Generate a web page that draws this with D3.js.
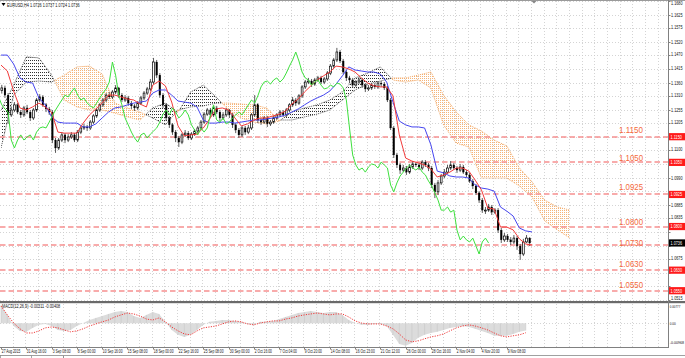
<!DOCTYPE html>
<html><head><meta charset="utf-8">
<script src="https://cdn.jsdelivr.net/npm/d3@7"></script>
<style>
html,body{margin:0;padding:0;background:#fff;overflow:hidden;}
svg{display:block;}
text{font-family:"Liberation Sans",Arial,sans-serif;}
</style></head><body>
<svg id="c" width="685" height="358"></svg>
<script>
// ---------- DATA ----------
const symbolHeader = "EURUSD,H4  1.0726 1.0737 1.0724 1.0736";
const macdHeader = "MACD(12,26,9) -0.00311 -0.00408";

// H4 candles, 2 bars per candle
const opens = [
1.1330,1.1340,1.1312,1.1235,1.1254,1.1274,1.1246,1.1235,1.1262,1.1246,
1.1223,1.1254,1.1293,1.1305,1.1274,1.1258,1.1246,1.1137,1.1106,1.1137,
1.1157,1.1137,1.1149,1.1157,1.1137,1.1168,1.1184,1.1188,1.1184,1.1207,
1.1231,1.1254,1.1274,1.1293,1.1312,1.1305,1.1324,1.1340,1.1312,1.1293,
1.1301,1.1281,1.1270,1.1262,1.1281,1.1301,1.1320,1.1336,1.1363,1.1441,
1.1390,1.1312,1.1274,1.1223,1.1196,1.1168,1.1145,1.1129,1.1157,1.1164,
1.1145,1.1160,1.1172,1.1184,1.1207,1.1238,1.1254,1.1235,1.1262,1.1246,
1.1223,1.1235,1.1254,1.1235,1.1196,1.1176,1.1157,1.1184,1.1168,1.1184,
1.1235,1.1274,1.1215,1.1207,1.1223,1.1200,1.1207,1.1223,1.1235,1.1246,
1.1235,1.1254,1.1274,1.1293,1.1281,1.1309,1.1344,1.1363,1.1367,1.1355,
1.1371,1.1379,1.1363,1.1375,1.1398,1.1425,1.1449,1.1480,1.1445,1.1402,
1.1379,1.1371,1.1351,1.1363,1.1371,1.1351,1.1336,1.1340,1.1351,1.1344,
1.1359,1.1355,1.1340,1.1293,1.1184,1.1079,1.1040,1.1020,1.1028,1.1012,
1.1032,1.1044,1.1040,1.1028,1.1051,1.1040,1.1028,1.0962,1.0935,1.0970,
1.0997,1.1012,1.1028,1.1040,1.1028,1.1020,1.1032,1.1012,1.1001,1.0977,
1.0958,1.0931,1.0903,1.0864,1.0864,1.0876,1.0856,1.0864,1.0786,1.0748,
1.0763,1.0748,1.0740,1.0755,1.0724,1.0693,1.0740,1.0755];
const highs = [
1.1352,1.1349,1.1320,1.1266,1.1285,1.1281,1.1254,1.1270,1.1274,1.1254,
1.1262,1.1301,1.1316,1.1312,1.1281,1.1266,1.1254,1.1145,1.1145,1.1168,
1.1164,1.1160,1.1168,1.1164,1.1176,1.1192,1.1200,1.1196,1.1215,1.1238,
1.1262,1.1281,1.1301,1.1320,1.1324,1.1332,1.1351,1.1344,1.1320,1.1312,
1.1309,1.1289,1.1277,1.1289,1.1309,1.1328,1.1344,1.1375,1.1457,1.1449,
1.1398,1.1320,1.1281,1.1231,1.1203,1.1176,1.1153,1.1164,1.1176,1.1172,
1.1168,1.1180,1.1192,1.1215,1.1246,1.1262,1.1262,1.1270,1.1270,1.1254,
1.1246,1.1262,1.1258,1.1242,1.1203,1.1184,1.1192,1.1192,1.1196,1.1242,
1.1312,1.1281,1.1223,1.1231,1.1231,1.1215,1.1231,1.1242,1.1254,1.1254,
1.1262,1.1281,1.1305,1.1301,1.1316,1.1351,1.1371,1.1379,1.1375,1.1379,
1.1387,1.1387,1.1383,1.1406,1.1433,1.1457,1.1496,1.1488,1.1453,1.1410,
1.1387,1.1379,1.1371,1.1383,1.1379,1.1359,1.1351,1.1359,1.1359,1.1367,
1.1367,1.1363,1.1348,1.1301,1.1192,1.1087,1.1048,1.1040,1.1036,1.1044,
1.1055,1.1051,1.1048,1.1059,1.1059,1.1048,1.1036,1.0970,1.0981,1.1005,
1.1024,1.1040,1.1055,1.1048,1.1036,1.1044,1.1040,1.1020,1.1009,1.0985,
1.0966,1.0938,1.0911,1.0876,1.0888,1.0884,1.0872,1.0872,1.0794,1.0775,
1.0771,1.0759,1.0767,1.0763,1.0732,1.0752,1.0767,1.0759];
const lows = [
1.1318,1.1301,1.1200,1.1227,1.1246,1.1238,1.1223,1.1227,1.1238,1.1211,
1.1215,1.1246,1.1285,1.1266,1.1246,1.1235,1.1125,1.1087,1.1098,1.1129,
1.1125,1.1129,1.1141,1.1129,1.1129,1.1160,1.1176,1.1172,1.1176,1.1200,
1.1223,1.1246,1.1266,1.1285,1.1297,1.1297,1.1316,1.1301,1.1285,1.1285,
1.1270,1.1258,1.1250,1.1254,1.1274,1.1293,1.1312,1.1328,1.1355,1.1379,
1.1301,1.1262,1.1211,1.1184,1.1157,1.1129,1.1110,1.1121,1.1149,1.1137,
1.1137,1.1153,1.1164,1.1176,1.1200,1.1231,1.1223,1.1227,1.1238,1.1211,
1.1215,1.1227,1.1223,1.1184,1.1164,1.1145,1.1149,1.1157,1.1160,1.1176,
1.1227,1.1203,1.1196,1.1200,1.1188,1.1192,1.1200,1.1215,1.1227,1.1227,
1.1227,1.1246,1.1266,1.1270,1.1274,1.1301,1.1336,1.1355,1.1344,1.1348,
1.1363,1.1355,1.1355,1.1367,1.1390,1.1418,1.1441,1.1437,1.1394,1.1367,
1.1359,1.1340,1.1344,1.1355,1.1340,1.1324,1.1328,1.1332,1.1336,1.1336,
1.1344,1.1332,1.1285,1.1176,1.1067,1.1028,1.1005,1.1012,1.1001,1.1005,
1.1024,1.1032,1.1020,1.1020,1.1032,1.1016,1.0950,1.0911,1.0923,1.0962,
1.0989,1.1005,1.1020,1.1020,1.1009,1.1012,1.1005,1.0993,1.0970,1.0946,
1.0923,1.0892,1.0853,1.0849,1.0857,1.0845,1.0849,1.0775,1.0736,1.0740,
1.0740,1.0728,1.0732,1.0709,1.0670,1.0685,1.0736,1.0724];
const closes = [
1.1340,1.1312,1.1235,1.1254,1.1274,1.1246,1.1235,1.1262,1.1246,1.1223,
1.1254,1.1293,1.1305,1.1274,1.1258,1.1246,1.1137,1.1106,1.1137,1.1157,
1.1137,1.1149,1.1157,1.1137,1.1168,1.1184,1.1188,1.1184,1.1207,1.1231,
1.1254,1.1274,1.1293,1.1312,1.1305,1.1324,1.1340,1.1312,1.1293,1.1301,
1.1281,1.1270,1.1262,1.1281,1.1301,1.1320,1.1336,1.1363,1.1441,1.1390,
1.1312,1.1274,1.1223,1.1196,1.1168,1.1145,1.1129,1.1157,1.1164,1.1145,
1.1160,1.1172,1.1184,1.1207,1.1238,1.1254,1.1235,1.1262,1.1246,1.1223,
1.1235,1.1254,1.1235,1.1196,1.1176,1.1157,1.1184,1.1168,1.1184,1.1235,
1.1274,1.1215,1.1207,1.1223,1.1200,1.1207,1.1223,1.1235,1.1246,1.1235,
1.1254,1.1274,1.1293,1.1281,1.1309,1.1344,1.1363,1.1367,1.1355,1.1371,
1.1379,1.1363,1.1375,1.1398,1.1425,1.1449,1.1480,1.1445,1.1402,1.1379,
1.1371,1.1351,1.1363,1.1371,1.1351,1.1336,1.1340,1.1351,1.1344,1.1359,
1.1355,1.1340,1.1293,1.1184,1.1079,1.1040,1.1020,1.1028,1.1012,1.1032,
1.1044,1.1040,1.1028,1.1051,1.1040,1.1028,1.0962,1.0935,1.0970,1.0997,
1.1012,1.1028,1.1040,1.1028,1.1020,1.1032,1.1012,1.1001,1.0977,1.0958,
1.0931,1.0903,1.0864,1.0864,1.0876,1.0856,1.0864,1.0786,1.0748,1.0763,
1.0748,1.0740,1.0755,1.0724,1.0693,1.0740,1.0755,1.0736];

// Ichimoku, sampled every 4 bars
const tenkan = [
1.1429,1.1406,1.1328,1.1262,1.1254,1.1266,1.1281,1.1266,1.1246,1.1168,
1.1164,1.1164,1.1164,1.1203,1.1235,1.1258,1.1281,1.1312,1.1312,1.1305,
1.1297,1.1293,1.1277,1.1266,1.1351,1.1367,1.1348,1.1285,1.1192,1.1153,
1.1157,1.1160,1.1184,1.1219,1.1258,1.1262,1.1254,1.1223,1.1192,1.1200,
1.1215,1.1223,1.1223,1.1231,1.1238,1.1250,1.1277,1.1297,1.1324,1.1348,
1.1371,1.1387,1.1402,1.1425,1.1422,1.1414,1.1402,1.1379,1.1359,1.1348,
1.1344,1.1344,1.1309,1.1157,1.1067,1.1055,1.1048,1.1040,1.1024,1.0993,
1.1001,1.1012,1.1028,1.1028,1.1016,1.0981,1.0942,1.0872,1.0868,1.0798,
1.0798,1.0787,1.0752,1.0732,1.0728];
const kijun = [
1.1468,1.1468,1.1433,1.1379,1.1363,1.1359,1.1301,1.1274,1.1227,1.1207,
1.1203,1.1203,1.1203,1.1188,1.1188,1.1200,1.1223,1.1246,1.1262,1.1266,
1.1274,1.1281,1.1285,1.1289,1.1320,1.1332,1.1332,1.1312,1.1289,1.1285,
1.1281,1.1266,1.1215,1.1203,1.1203,1.1207,1.1207,1.1203,1.1207,1.1211,
1.1215,1.1215,1.1219,1.1223,1.1227,1.1235,1.1246,1.1258,1.1274,1.1289,
1.1301,1.1312,1.1328,1.1355,1.1387,1.1422,1.1410,1.1406,1.1402,1.1402,
1.1394,1.1363,1.1285,1.1211,1.1196,1.1188,1.1188,1.1184,1.1118,1.1016,
1.1009,1.0997,1.0993,1.0993,1.0989,1.0962,1.0950,1.0946,1.0938,1.0876,
1.0860,1.0841,1.0794,1.0783,1.0779];
// Senkou spans, sampled every 8 bars (already shifted 26 bars forward)
const senkouA = [
1.1106,1.1312,1.1363,1.1367,1.1363,1.1390,1.1422,1.1425,1.1394,1.1281,
1.1262,1.1246,1.1223,1.1196,1.1254,1.1266,1.1270,1.1281,1.1281,1.1277,
1.1274,1.1262,1.1215,1.1215,1.1227,1.1238,1.1254,1.1293,1.1332,1.1355,
1.1367,1.1379,1.1379,1.1390,1.1402,1.1312,1.1246,1.1196,1.1172,1.1137,
1.1114,1.1028,1.0974,1.0903,1.0876,1.0864];
const senkouB = [
1.1254,1.1351,1.1461,1.1457,1.1390,1.1293,1.1266,1.1254,1.1254,1.1242,
1.1227,1.1215,1.1262,1.1281,1.1246,1.1324,1.1351,1.1305,1.1254,1.1223,
1.1207,1.1200,1.1211,1.1246,1.1262,1.1274,1.1293,1.1324,1.1379,1.1398,
1.1422,1.1371,1.1363,1.1371,1.1340,1.1196,1.1125,1.1110,1.0989,1.0989,
1.0989,1.0958,1.0915,1.0822,1.0787,1.0755];

// MACD(12,26,9), sampled every 4 bars
const macdMain = [
0.0079,0.0036,-0.0012,-0.0033,-0.0037,-0.0020,-0.0007,-0.0003,-0.0012,-0.0029,
-0.0033,-0.0029,-0.0012,0.0001,0.0014,0.0023,0.0031,0.0040,0.0048,0.0053,
0.0048,0.0031,0.0023,0.0036,0.0048,0.0040,0.0006,-0.0029,-0.0050,-0.0059,
-0.0050,-0.0029,-0.0007,0.0006,0.0010,0.0014,0.0014,0.0010,0.0006,-0.0003,
-0.0007,0.0006,0.0006,0.0010,0.0018,0.0027,0.0036,0.0044,0.0048,0.0053,
0.0048,0.0044,0.0048,0.0048,0.0036,0.0014,0.0001,-0.0007,-0.0007,-0.0003,
-0.0003,-0.0012,-0.0050,-0.0089,-0.0097,-0.0085,-0.0063,-0.0050,-0.0042,-0.0037,
-0.0029,-0.0020,-0.0016,-0.0012,-0.0016,-0.0024,-0.0033,-0.0042,-0.0054,-0.0054,
-0.0054,-0.0046,-0.0037,-0.0031];
const macdSignal = [
0.0074,0.0036,0.0001,-0.0024,-0.0042,-0.0042,-0.0033,-0.0020,-0.0016,-0.0020,
-0.0029,-0.0037,-0.0033,-0.0024,-0.0012,-0.0003,0.0006,0.0014,0.0027,0.0036,
0.0044,0.0040,0.0031,0.0018,0.0014,0.0023,0.0006,-0.0016,-0.0033,-0.0046,
-0.0050,-0.0033,-0.0020,-0.0016,-0.0012,-0.0003,0.0006,0.0010,0.0006,-0.0003,
-0.0007,0.0001,0.0006,0.0010,0.0010,0.0018,0.0023,0.0031,0.0036,0.0040,
0.0044,0.0040,0.0036,0.0040,0.0040,0.0027,0.0010,0.0001,-0.0003,-0.0003,
-0.0003,-0.0012,-0.0024,-0.0046,-0.0072,-0.0080,-0.0076,-0.0067,-0.0059,-0.0054,
-0.0046,-0.0033,-0.0020,-0.0012,-0.0007,-0.0012,-0.0020,-0.0029,-0.0042,-0.0054,
-0.0059,-0.0054,-0.0050,-0.0041];

// Horizontal levels and their text objects
const levels = [1.1150,1.1050,1.0925,1.0800,1.0730,1.0630,1.0550];
const levelLabels = ["1.1150","1.1050","1.0925","1.0800","1.0730","1.0630","1.0550"];
const levelLabelPrices = [1.1175,1.1066,1.0955,1.0819,1.0736,1.0654,1.0572];
const boxedLevels = [1.1150,1.1050,1.0925,1.0800,1.0630,1.0550];
const currentPrice = 1.0736;

// Axes
const priceTicks = ["1.1680","1.1625","1.1575","1.1520","1.1470","1.1415","1.1360","1.1310","1.1255","1.1205","1.1150","1.1100","1.1045","1.0990","1.0940","1.0885","1.0835","1.0780","1.0725","1.0675","1.0620","1.0570","1.0515"];
const macdTicks = [0.00777, 0, -0.00968];
const macdTickLabels = ["0.00777","0.00","-0.00968"];
const dateLabels = ["27 Aug 2015","31 Aug 16:00","3 Sep 08:00","8 Sep 00:00","10 Sep 16:00","15 Sep 08:00","18 Sep 00:00","22 Sep 16:00","25 Sep 08:00","30 Sep 00:00","2 Oct 16:00","7 Oct 04:00","9 Oct 20:00","14 Oct 08:00","16 Oct 23:00","21 Oct 12:00","26 Oct 00:00","28 Oct 16:00","2 Nov 04:00","4 Nov 20:00","9 Nov 08:00"];

// ---------- DRAWING ----------
const svg = d3.select("#c");
const AX = 668;               // right edge of plot / axis line
const x = d3.scaleLinear().domain([0, 422]).range([1, AX]);          // bar index -> px
const y = d3.scaleLinear().domain([1.0513, 1.1680]).range([300.2, 0.67]);
const ym = d3.scaleLinear().domain([-0.00968, 0.00777]).range([345.7, 305.2]);

function squeeze(sel, f){
  sel.each(function(){
    const w = this.getComputedTextLength();
    d3.select(this).attr("textLength", w*f).attr("lengthAdjust","spacingAndGlyphs");
  });
}

const defs = svg.append("defs");
defs.append("clipPath").attr("id","clipMain").append("rect")
  .attr("x",0).attr("y",1).attr("width",AX).attr("height",300);
defs.append("clipPath").attr("id","clipMacd").append("rect")
  .attr("x",0).attr("y",304).attr("width",AX).attr("height",43);
const pO = defs.append("pattern").attr("id","patO").attr("patternUnits","userSpaceOnUse").attr("width",2).attr("height",2);
pO.append("rect").attr("width",1).attr("height",1).attr("fill","#f5b479");
const pD = defs.append("pattern").attr("id","patD").attr("patternUnits","userSpaceOnUse").attr("width",2).attr("height",3);
pD.append("rect").attr("width",1).attr("height",1).attr("fill","#303030");

// grid
const grid = svg.append("g").attr("stroke","#c9c9c9").attr("stroke-width",0.8).attr("stroke-dasharray","1,2");
for(let m=1; x(8*m) < AX-2; m++){
  const gx = Math.round(x(8*m)) - 0.5;
  grid.append("line").attr("x1",gx).attr("x2",gx).attr("y1",1).attr("y2",300);
  grid.append("line").attr("x1",gx).attr("x2",gx).attr("y1",304).attr("y2",347);
}
priceTicks.forEach(t=>{
  const gy = Math.round(y(+t)) + 0.5;
  grid.append("line").attr("x1",0).attr("x2",AX).attr("y1",gy).attr("y2",gy);
});
grid.append("line").attr("x1",0).attr("x2",AX).attr("y1",Math.round(ym(0))+0.5).attr("y2",Math.round(ym(0))+0.5);

// main panel
const main = svg.append("g").attr("clip-path","url(#clipMain)");

// cloud: split into orange (A above B) and dark (B above A) x-intervals
const nC = senkouA.length;
const segs = [];
let cur = senkouA[0] >= senkouB[0], start = 0;
for(let j=1;j<nC;j++){
  const d0 = senkouA[j-1]-senkouB[j-1], d1 = senkouA[j]-senkouB[j];
  const o1 = d1 >= 0;
  if(o1 !== cur){
    const t = d0/(d0-d1);
    const b = 8*(j-1) + t*8;
    segs.push({b0:start,b1:b,orange:cur}); start=b; cur=o1;
  }
}
segs.push({b0:start,b1:8*(nC-1),orange:cur});
const cO = defs.append("clipPath").attr("id","clipO");
const cD = defs.append("clipPath").attr("id","clipD");
segs.forEach(s=>{
  (s.orange?cO:cD).append("rect").attr("x",x(s.b0)).attr("y",0)
    .attr("width",Math.max(0,x(s.b1)-x(s.b0))).attr("height",302);
});
const cloudData = senkouA.map((a,j)=>({b:8*j,a:a,bb:senkouB[j]}));
const cArea = d3.area().x(d=>x(d.b)).y0(d=>y(d.a)).y1(d=>y(d.bb));
const lineA = d3.line().x(d=>x(d.b)).y(d=>y(d.a));
const lineB = d3.line().x(d=>x(d.b)).y(d=>y(d.bb));
[["O","#f0a25a"],["D","#404040"]].forEach(([k,col])=>{
  const g = main.append("g").attr("clip-path","url(#clip"+k+")");
  g.append("path").datum(cloudData).attr("d",cArea).attr("fill","url(#pat"+k+")");
  [lineA,lineB].forEach(l=>g.append("path").datum(cloudData).attr("d",l)
    .attr("fill","none").attr("stroke",col).attr("stroke-width",0.9).attr("stroke-dasharray","1,1"));
});

// level lines
levels.forEach(v=>{
  const ly = Math.round(y(v));
  main.append("line").attr("x1",0).attr("x2",AX).attr("y1",ly).attr("y2",ly)
    .attr("stroke","#f69090").attr("stroke-width",1.7).attr("stroke-dasharray","5.5,3");
});

// candles
const cg = main.append("g");
closes.forEach((c,k)=>{
  const o = opens[k], h = highs[k], l = lows[k];
  const cx = x(2*k+0.5);
  cg.append("line").attr("x1",cx).attr("x2",cx).attr("y1",y(h)).attr("y2",y(l))
    .attr("stroke","#4a4a4a").attr("stroke-width",0.9);
  const top = y(Math.max(o,c)), bot = y(Math.min(o,c));
  const bull = c >= o;
  cg.append("rect").attr("x",cx-0.9).attr("y",top).attr("width",1.8).attr("height",Math.max(0.9,bot-top))
    .attr("fill",bull?"#ffffff":"#000000").attr("stroke","#000").attr("stroke-width",bull?0.7:0.2);
});

// Ichimoku lines
const lineT = d3.line().x((d,m)=>x(4*m)).y(d=>y(d));
main.append("path").datum(kijun).attr("d",lineT).attr("fill","none").attr("stroke","#4646f0").attr("stroke-width",1);
main.append("path").datum(tenkan).attr("d",lineT).attr("fill","none").attr("stroke","#f23a3a").attr("stroke-width",1);
const lineC = d3.line().x((d,k)=>x(2*k+0.5-26)).y(d=>y(d));
main.append("path").datum(closes).attr("d",lineC).attr("fill","none").attr("stroke","#3de03d").attr("stroke-width",1);

// level text objects
levelLabels.forEach((t,i)=>{
  main.append("text").attr("x",619).attr("y",y(levelLabelPrices[i])+3)
    .attr("font-size",8.6).attr("fill","#f4693c").attr("textLength",24).attr("lengthAdjust","spacingAndGlyphs").text(t);
});

// MACD panel
const mg = svg.append("g").attr("clip-path","url(#clipMacd)");
const hArea = d3.area().x((d,m)=>x(4*m)).y0(ym(0)).y1(d=>ym(d));
mg.append("path").datum(macdMain).attr("d",hArea).attr("fill","#dcdcdc");
for(let m=0;m<macdMain.length;m++){
  mg.append("line").attr("x1",x(4*m)).attr("x2",x(4*m)).attr("y1",ym(0)).attr("y2",ym(macdMain[m]))
    .attr("stroke","#c8c8c8").attr("stroke-width",0.6);
}
const sLine = d3.line().x((d,m)=>x(4*m)).y(d=>ym(d));
mg.append("path").datum(macdSignal).attr("d",sLine).attr("fill","none").attr("stroke","#f03a3a")
  .attr("stroke-width",1).attr("stroke-dasharray","1.2,1.3");

// frame lines
svg.append("line").attr("x1",0).attr("x2",685).attr("y1",0.5).attr("y2",0.5).attr("stroke","#9a9a9a");
svg.append("rect").attr("x",0).attr("y",301).attr("width",685).attr("height",2.2).attr("fill","#6a6a6a");
svg.append("line").attr("x1",AX+0.5).attr("x2",AX+0.5).attr("y1",0).attr("y2",348).attr("stroke","#808080");
svg.append("line").attr("x1",0).attr("x2",AX+1).attr("y1",347.5).attr("y2",347.5).attr("stroke","#808080");

// right axis labels (those covered by a price box are hidden, as in the terminal)
const ax = svg.append("g");
const boxYs = boxedLevels.concat([currentPrice]).map(v=>y(v));
priceTicks.forEach(t=>{
  const ty = y(+t);
  ax.append("line").attr("x1",AX).attr("x2",AX+2.5).attr("y1",Math.round(ty)+0.5).attr("y2",Math.round(ty)+0.5).attr("stroke","#808080");
  if (boxYs.some(b=>Math.abs(b-ty)<6)) return;
  ax.append("text").attr("x",AX+3).attr("y",Math.max(Math.min(ty+1.8,299.8),5.2)).attr("font-size",5)
    .attr("fill","#111").attr("textLength",11.5).attr("lengthAdjust","spacingAndGlyphs").text(t);
});
macdTicks.forEach((v,i)=>{
  const lab = macdTickLabels[i];
  const long = lab.length > 7;
  const t = ax.append("text").attr("x",AX+1.8)
    .attr("y",Math.max(Math.min(ym(v)+1.8,344.4),308.4)).attr("fill","#111").text(lab);
  if (long) t.attr("font-size",3.6);
  else t.attr("font-size",4.4).attr("textLength",lab.length*1.5).attr("lengthAdjust","spacingAndGlyphs");
});
// price boxes
boxedLevels.forEach(v=>{
  const by = y(v);
  ax.append("rect").attr("x",AX+1).attr("y",by-3.6).attr("width",685-AX-1).attr("height",7.2).attr("fill","#ff1a1a");
  ax.append("text").attr("x",AX+2.5).attr("y",by+1.8).attr("font-size",5).attr("fill","#fff")
    .attr("textLength",11.5).attr("lengthAdjust","spacingAndGlyphs").text(v.toFixed(4));
});
{
  const by = y(currentPrice);
  ax.append("rect").attr("x",AX+1).attr("y",by-3.6).attr("width",685-AX-1).attr("height",7.2).attr("fill","#000");
  ax.append("text").attr("x",AX+2.5).attr("y",by+1.8).attr("font-size",5).attr("fill","#fff")
    .attr("textLength",11.5).attr("lengthAdjust","spacingAndGlyphs").text(currentPrice.toFixed(4));
}

// bottom date axis
dateLabels.forEach((t,i)=>{
  const tx = Math.round(x(16*i))+0.5;
  ax.append("line").attr("x1",tx).attr("x2",tx).attr("y1",347.5).attr("y2",349.5).attr("stroke","#808080");
  ax.append("text").attr("x",tx+0.3).attr("y",352.6).attr("font-size",4.6).attr("fill","#111").text(t)
    .call(squeeze,0.72);
});

// tab bar
svg.append("line").attr("x1",0).attr("x2",685).attr("y1",355.5).attr("y2",355.5).attr("stroke","#a0a0a0");
svg.append("rect").attr("x",0.5).attr("y",355.5).attr("width",31).attr("height",3).attr("fill","#fff").attr("stroke","#909090").attr("stroke-width",0.8);
svg.append("line").attr("x1",63.5).attr("x2",63.5).attr("y1",355.5).attr("y2",358).attr("stroke","#909090");

// headers
svg.append("path").attr("d","M1.5,3 L5.5,3 L3.5,6 Z").attr("fill","#000");
svg.append("text").attr("x",7).attr("y",6.5).attr("font-size",5).attr("fill","#111").text(symbolHeader).call(squeeze,0.76);
svg.append("text").attr("x",2).attr("y",308.3).attr("font-size",5).attr("fill","#111").text(macdHeader).call(squeeze,0.76);
// chart shift marker
svg.append("path").attr("d","M531.5,1 L536.5,1 L534,3.5 Z").attr("fill","#888");
</script>
</body></html>
